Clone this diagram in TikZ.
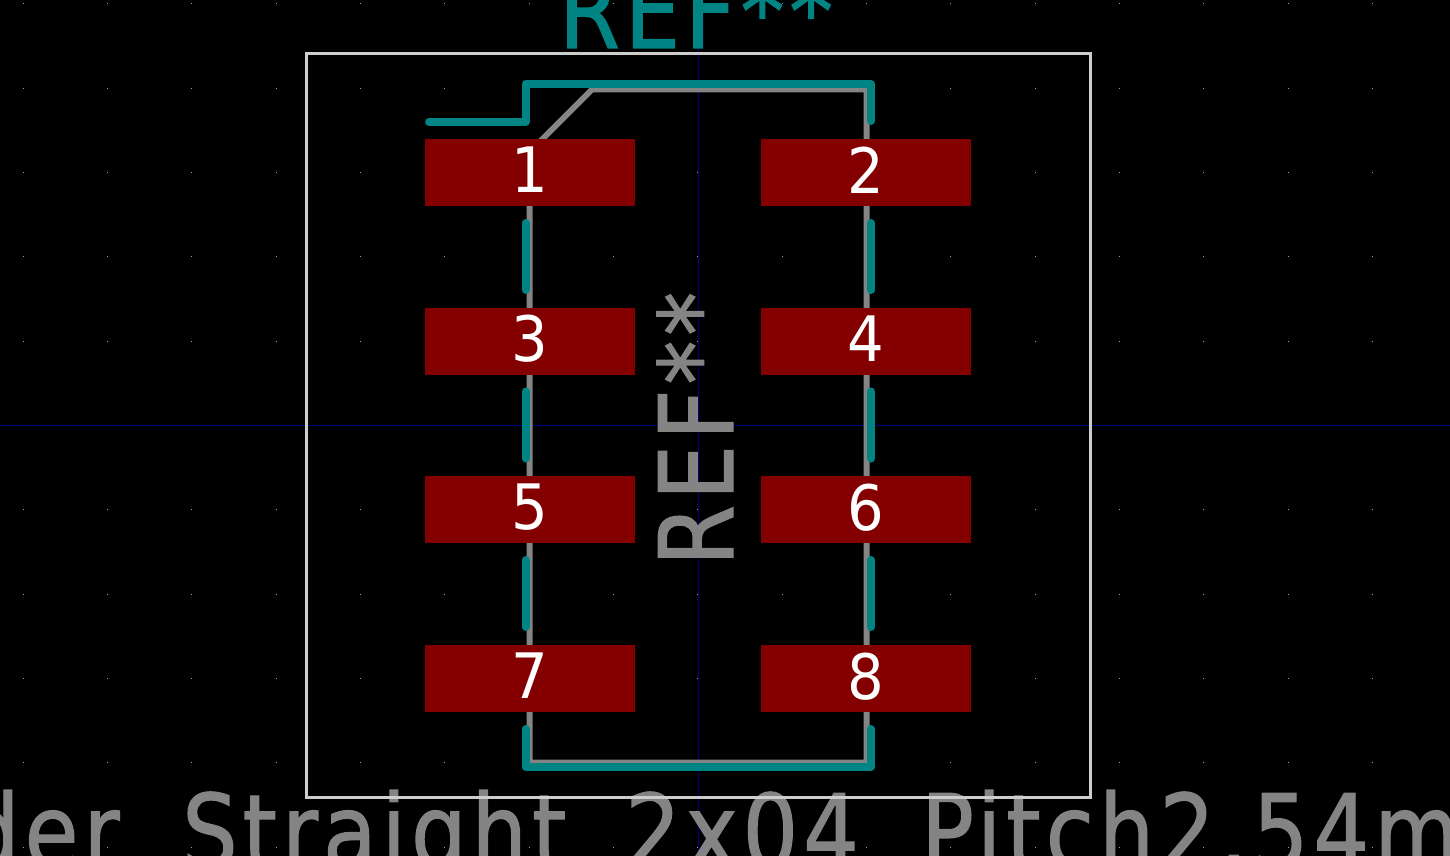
\documentclass[tikz,border=0pt]{standalone}
\usepackage{fontspec}
\usepackage{xcolor}
\newfontfamily\padfont[FakeStretch=.92]{DejaVu Sans}
\newfontfamily\strokefont[FakeStretch=.85, FakeBold=1.2, LetterSpace=5]{DejaVu Sans}
\definecolor{silkteal}{HTML}{008484}
\definecolor{fabgray}{HTML}{848484}
\definecolor{padred}{HTML}{840000}
\definecolor{axisblue}{HTML}{000084}
\definecolor{frameline}{HTML}{CDCDCD}
\tikzset{
    padbox/.style={rectangle, fill=padred, text=white, minimum width=157.5pt, minimum height=50.25pt, inner sep=0pt, text depth=3.75pt, font=\padfont\fontsize{47}{47}\selectfont},
    silkline/.style={draw=silkteal, line width=6pt, line cap=round, line join=round},
    fabline/.style={draw=fabgray, line width=4.5pt, line join=miter},
    axisline/.style={draw=axisblue, line width=.75pt},
    strokelabel/.style={inner sep=0pt, font=\strokefont\fontsize{77}{77}\selectfont}
}

\begin{document}
\begin{tikzpicture}[x=.75pt, y=-.75pt]
        \useasboundingbox (0, 0) rectangle (1450, 856);
        \clip (0, 0) rectangle (1450, 856);
        \fill[black] (0, 0) rectangle (1450, 856);

        \foreach \i in {0,...,16}
            \foreach \j in {0,...,10}
                \fill[gray!70] ({22.8+84.33*\i}, {3.5+84.33*\j}) rectangle +(1, 1);

        \coordinate (axistop) at (698.5, 0);
        \coordinate (axisbottom) at (698.5, 856);
        \coordinate (axisleft) at (0, 425.5);
        \coordinate (axisright) at (1450, 425.5);
        \draw[axisline] (axistop) to (axisbottom)
            (axisleft) to (axisright);

        \draw[fabline] (592, 89.5) -- (866.5, 89.5) -- (866.5, 762.5) -- (529.5, 762.5) -- (529.5, 152) -- cycle;

        \node[strokelabel, text=fabgray, anchor=base west, rotate=90] (fabref) at (733, 566) {REF**};
        \node[strokelabel, text=fabgray, anchor=base west] (partder) at (-36, 868) {der};
        \node[strokelabel, text=fabgray, anchor=base west] (partstraight) at (182, 868) {Straight};
        \node[strokelabel, text=fabgray, anchor=base west] (partsize) at (625, 868) {2x04};
        \node[strokelabel, text=fabgray, anchor=base west] (partpitch) at (921, 868) {Pitch2.54m};

        \draw[draw=frameline, line width=2.25pt] (306.5, 53.5) rectangle (1090, 797.5);

        \node[strokelabel, text=silkteal, anchor=base west] (silkref) at (559, 48) {REF**};

        \draw[silkline] (429, 122) -- (525.5, 122) -- (525.5, 84) -- (871, 84) -- (871, 121);
        \draw[silkline] (525.5, 223) -- (525.5, 290)
            (525.5, 391.5) -- (525.5, 458.5)
            (525.5, 560) -- (525.5, 627)
            (871, 223) -- (871, 290)
            (871, 391.5) -- (871, 458.5)
            (871, 560) -- (871, 627);
        \draw[silkline] (525.5, 729) -- (525.5, 767) -- (871, 767) -- (871, 729);

        \node[padbox] (pad1) at (530, 172.5) {1};
        \node[padbox] (pad2) at (866, 172.5) {2};
        \node[padbox] (pad3) at (530, 341) {3};
        \node[padbox] (pad4) at (866, 341) {4};
        \node[padbox] (pad5) at (530, 509.5) {5};
        \node[padbox] (pad6) at (866, 509.5) {6};
        \node[padbox] (pad7) at (530, 678.5) {7};
        \node[padbox] (pad8) at (866, 678.5) {8};
    \end{tikzpicture}
\end{document}
